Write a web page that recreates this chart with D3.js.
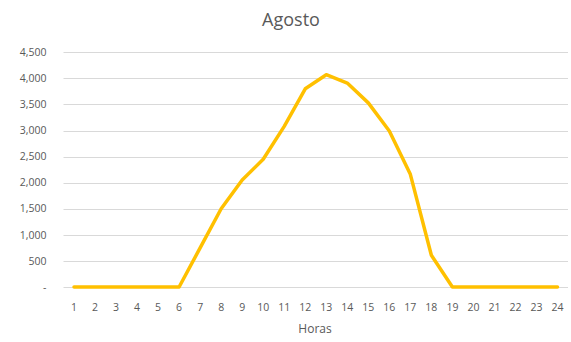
<!DOCTYPE html>
<html><head><meta charset="utf-8">
<script src="https://cdn.jsdelivr.net/npm/d3@7"></script>
<style>body{margin:0;background:#fff}svg{display:block}</style>
</head><body>
<script>
const title = "Agosto";
const xTitle = "Horas";
const hours = [1,2,3,4,5,6,7,8,9,10,11,12,13,14,15,16,17,18,19,20,21,22,23,24];
const values = [0,0,0,0,0,0,750,1500,2050,2450,3080,3800,4070,3910,3530,2990,2160,610,0,0,0,0,0,0];
const yTicks = [0,500,1000,1500,2000,2500,3000,3500,4000,4500];

const W = 571, H = 342;
const svg = d3.select("body").append("svg").attr("width", W).attr("height", H);
const font = "'Open Sans', 'Liberation Sans', sans-serif";

const x = d3.scaleBand().domain(hours).range([63.5, 568]);
const y = d3.scaleLinear().domain([0, 4500]).range([287, 52.3]);

// gridlines
svg.append("g").selectAll("line").data(yTicks).join("line")
  .attr("x1", 63.5).attr("x2", 568)
  .attr("y1", d => Math.round(y(d)) + 0.5).attr("y2", d => Math.round(y(d)) + 0.5)
  .attr("stroke", "#d9d9d9").attr("stroke-width", 1);

// y axis labels
const fmt = d3.format(",");
svg.append("g").selectAll("text").data(yTicks).join("text")
  .attr("x", 46.5).attr("y", d => y(d)).attr("dy", "0.35em")
  .attr("text-anchor", "end")
  .attr("font-family", font).attr("font-size", 10.5).attr("fill", "#595959")
  .text(d => d === 0 ? "-" : fmt(d));

// x axis labels
svg.append("g").selectAll("text").data(hours).join("text")
  .attr("x", d => x(d) + x.bandwidth() / 2).attr("y", 311)
  .attr("text-anchor", "middle")
  .attr("font-family", font).attr("font-size", 10.5).attr("fill", "#595959")
  .text(d => d);

// line
const line = d3.line()
  .x((d, i) => x(hours[i]) + x.bandwidth() / 2)
  .y(d => y(d));
svg.append("path").datum(values)
  .attr("d", line)
  .attr("fill", "none").attr("stroke", "#FFC000")
  .attr("stroke-width", 3.5).attr("stroke-linejoin", "round").attr("stroke-linecap", "round");

// title
svg.append("text").attr("x", 291).attr("y", 26)
  .attr("text-anchor", "middle")
  .attr("font-family", font).attr("font-size", 18).attr("fill", "#595959")
  .text(title);

// x title
svg.append("text").attr("x", 315).attr("y", 333)
  .attr("text-anchor", "middle")
  .attr("font-family", font).attr("font-size", 12).attr("fill", "#595959")
  .text(xTitle);
</script>
</body></html>
